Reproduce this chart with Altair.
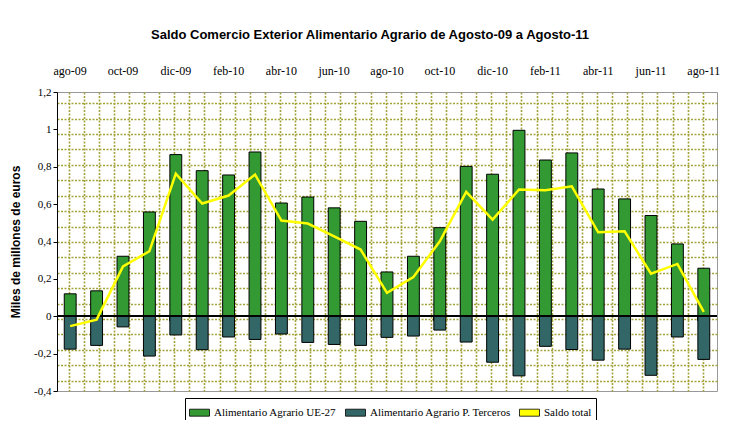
import altair as alt
import pandas as pd

months = ["ago-09", "sep-09", "oct-09", "nov-09", "dic-09", "ene-10", "feb-10", "mar-10",
          "abr-10", "may-10", "jun-10", "jul-10", "ago-10", "sep-10", "oct-10", "nov-10",
          "dic-10", "ene-11", "feb-11", "mar-11", "abr-11", "may-11", "jun-11", "jul-11", "ago-11"]
ue27 = [0.12, 0.136, 0.321, 0.558, 0.865, 0.779, 0.756, 0.879, 0.606, 0.638, 0.580, 0.508,
        0.237, 0.321, 0.474, 0.802, 0.760, 0.995, 0.836, 0.874, 0.681, 0.628, 0.539, 0.387, 0.257]
terceros = [-0.176, -0.156, -0.057, -0.213, -0.100, -0.179, -0.111, -0.124, -0.095, -0.140,
            -0.151, -0.156, -0.113, -0.106, -0.074, -0.138, -0.246, -0.319, -0.161, -0.178,
            -0.235, -0.176, -0.316, -0.111, -0.231]
saldo = [-0.053, -0.018, 0.267, 0.348, 0.763, 0.603, 0.646, 0.758, 0.512, 0.496, 0.428, 0.357,
         0.125, 0.210, 0.401, 0.665, 0.517, 0.678, 0.674, 0.695, 0.449, 0.455, 0.228, 0.280, 0.023]
series = ["Alimentario Agrario UE-27", "Alimentario Agrario P. Terceros", "Saldo total"]
colors = ["#339933", "#336666", "#FFFF00"]
y_ticks = [-0.4, -0.2, 0, 0.2, 0.4, 0.6, 0.8, 1, 1.2]

W, H = 660, 299
SERIF = "'Liberation Serif', 'Times New Roman', serif"
SANS = "Liberation Sans"

bars_df = pd.DataFrame({
    "mes": months * 2,
    "serie": [series[0]] * len(months) + [series[1]] * len(months),
    "valor": ue27 + terceros,
})
line_df = pd.DataFrame({"mes": months, "saldo": saldo})
grid_df = pd.DataFrame({"gx": [0], "gy": [0]})

grid_color = "#a3a33c"
gx_vals = [11.5 + 15.1 * k for k in range(44)]
gy_vals = [287.7 - 15.4 * k for k in range(19)]

grid = alt.Chart(grid_df).mark_point(opacity=0).encode(
    x=alt.X("gx:Q", scale=alt.Scale(domain=[0, W], nice=False, zero=False),
            axis=alt.Axis(orient="bottom", values=gx_vals, grid=True, labels=False, ticks=False,
                          domain=False, title=None, gridColor=grid_color, gridDash=[2, 1.5],
                          gridWidth=1.6)),
    y=alt.Y("gy:Q", scale=alt.Scale(domain=[0, H], nice=False, zero=False),
            axis=alt.Axis(orient="right", values=gy_vals, grid=True, labels=False, ticks=False,
                          domain=False, title=None, gridColor=grid_color, gridDash=[2, 1.5],
                          gridWidth=1.6)),
)

xscale = alt.Scale(domain=months, paddingInner=0.55, paddingOuter=0.275)
yscale = alt.Scale(domain=[-0.4, 1.2], nice=False, zero=False)
yaxis = alt.Axis(orient="left", values=y_ticks, grid=False, domainColor="black",
                 tickColor="black", tickSize=4, labelFont=SERIF, labelFontSize=11,
                 labelColor="black",
                 labelExpr="(datum.value < 0 ? '-' : '') + replace(format(abs(datum.value), '.1~f'), '.', ',')",
                 title="Miles de millones de euros", titleFont=SANS, titleFontSize=12,
                 titleFontWeight="bold", titleColor="black", titlePadding=11)

bars = alt.Chart(bars_df).mark_bar(stroke="black", strokeWidth=1).encode(
    x=alt.X("mes:N", sort=months, scale=xscale,
            axis=alt.Axis(orient="top", values=months[::2], labelAngle=0, ticks=False,
                          domain=False, grid=False, title=None, labelFont=SERIF,
                          labelFontSize=12, labelColor="black", labelPadding=15)),
    y=alt.Y("valor:Q", stack=None, scale=yscale, axis=yaxis),
    color=alt.Color("serie:N", scale=alt.Scale(domain=series, range=colors),
                    legend=alt.Legend(title=None, orient="none", legendX=128, legendY=306,
                                      direction="horizontal", labelFont=SERIF, labelFontSize=11,
                                      labelColor="black", symbolType="M-1,-0.35H1V0.35H-1Z",
                                      symbolSize=400, symbolStrokeColor="black",
                                      symbolStrokeWidth=0.8, symbolOpacity=1,
                                      strokeColor="black", padding=4, columnPadding=6,
                                      labelOffset=4, cornerRadius=0)),
)

zero = alt.Chart(line_df).mark_rule(color="black", strokeWidth=1).encode(
    y=alt.Y(datum=0, scale=yscale, axis=yaxis)
)

ticks_layer = alt.Chart(line_df).mark_point(opacity=0).encode(
    x=alt.X("mes:N", sort=months, scale=xscale,
            axis=alt.Axis(orient="bottom", values=months[2::2], bandPosition=0, labels=False,
                          domain=False, grid=False, ticks=True, tickSize=4, tickColor="black",
                          tickWidth=1, title=None, offset=-74.75)),
    y=alt.Y("saldo:Q", scale=yscale, axis=yaxis),
)

line = alt.Chart(line_df).mark_line(color="#FFFF00", strokeWidth=2.5).encode(
    x=alt.X("mes:N", sort=months, scale=xscale, axis=None),
    y=alt.Y("saldo:Q", scale=yscale, axis=yaxis),
)

main = alt.layer(bars, ticks_layer, zero, line)

chart = alt.layer(grid, main).resolve_scale(x="independent", y="independent").properties(
    width=W, height=H,
    title=alt.TitleParams("Saldo Comercio Exterior Alimentario Agrario de Agosto-09 a Agosto-11",
                          font=SANS, fontSize=13, fontWeight="bold", color="black",
                          anchor="middle", offset=22, dx=-17),
    padding={"left": 49, "top": 84, "right": 15, "bottom": 29},
    autosize=alt.AutoSizeParams(type="none"),
).configure_view(stroke="#999999", strokeWidth=1).configure_axis(
    labelFont=SERIF
).configure_legend(labelFont=SERIF)

chart.save("out.html", embed_options={"renderer": "svg", "actions": False})
